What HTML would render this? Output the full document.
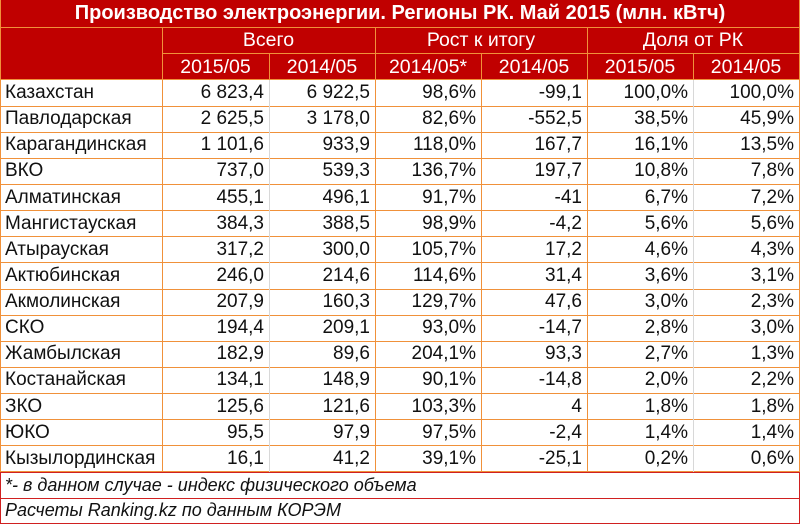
<!DOCTYPE html>
<html><head><meta charset="utf-8"><style>
body{margin:0;width:800px;height:525px;background:#fff;overflow:hidden;font-family:"Liberation Sans",sans-serif;}
.c{position:absolute;box-sizing:border-box;font-size:19px;line-height:26px;white-space:nowrap;}
.h{color:#fff;text-align:center;font-size:19.5px;}
.r{text-align:right;padding-right:5px;color:#111;}
.l{padding-left:5px;color:#111;}
.vl{position:absolute;width:1px;}
.hl{position:absolute;height:1px;}
</style></head><body>
<div style="position:absolute;left:0;top:0;width:800px;height:80px;background:#c00000"></div>
<div class="c h" style="left:0;top:0;width:800px;font-weight:bold;line-height:27px;font-size:20px">Производство электроэнергии. Регионы РК. Май 2015 (млн. кВтч)</div>
<div class="c h" style="left:162px;top:27px;width:213px">Всего</div>
<div class="c h" style="left:375px;top:27px;width:212px">Рост к итогу</div>
<div class="c h" style="left:587px;top:27px;width:212px">Доля от РК</div>
<div id="hdr"></div>
<div id="rows"></div>
<div class="c l" style="left:0;top:472px;font-style:italic;line-height:26px;font-size:18px">*- в данном случае - индекс физического объема</div>
<div class="c l" style="left:0;top:498px;font-style:italic;line-height:25px;font-size:18px">Расчеты Ranking.kz по данным КОРЭМ</div>
<div style="position:absolute;left:0;top:472px;width:800px;height:52px;box-sizing:border-box;border:1px solid #d02020"></div>
<div class="hl" style="left:0;top:498px;width:800px;background:#d02020"></div>
<script>
var xs=[0,162,269,375,481,587,693,799];
var hd=["2015/05","2014/05","2014/05*","2014/05","2015/05","2014/05"];
var h='';
for(var i=0;i<6;i++)h+='<div class="c h" style="left:'+xs[i+1]+'px;top:54px;width:'+(xs[i+2]-xs[i+1])+'px">'+hd[i]+'</div>';
document.getElementById('hdr').innerHTML=h;
var d=[["Казахстан","6 823,4","6 922,5","98,6%","-99,1","100,0%","100,0%"],
["Павлодарская","2 625,5","3 178,0","82,6%","-552,5","38,5%","45,9%"],
["Карагандинская","1 101,6","933,9","118,0%","167,7","16,1%","13,5%"],
["ВКО","737,0","539,3","136,7%","197,7","10,8%","7,8%"],
["Алматинская","455,1","496,1","91,7%","-41","6,7%","7,2%"],
["Мангистауская","384,3","388,5","98,9%","-4,2","5,6%","5,6%"],
["Атырауская","317,2","300,0","105,7%","17,2","4,6%","4,3%"],
["Актюбинская","246,0","214,6","114,6%","31,4","3,6%","3,1%"],
["Акмолинская","207,9","160,3","129,7%","47,6","3,0%","2,3%"],
["СКО","194,4","209,1","93,0%","-14,7","2,8%","3,0%"],
["Жамбылская","182,9","89,6","204,1%","93,3","2,7%","1,3%"],
["Костанайская","134,1","148,9","90,1%","-14,8","2,0%","2,2%"],
["ЗКО","125,6","121,6","103,3%","4","1,8%","1,8%"],
["ЮКО","95,5","97,9","97,5%","-2,4","1,4%","1,4%"],
["Кызылординская","16,1","41,2","39,1%","-25,1","0,2%","0,6%"]];
var s='';
for(var r=0;r<15;r++){var y=80+r*26.13;
 for(var c=0;c<7;c++){s+='<div class="c '+(c?'r':'l')+'" style="left:'+xs[c]+'px;top:'+y+'px;width:'+(xs[c+1]-xs[c])+'px">'+d[r][c]+'</div>';}
 s+='<div class="hl" style="left:0;top:'+(y+25.6)+'px;width:800px;background:#f0913a"></div>';}
for(var c=1;c<7;c++){var col=(c==2||c==6)?'#d8d8d8':'#f0913a';
 s+='<div class="vl" style="left:'+xs[c]+'px;top:80px;height:392px;background:'+col+'"></div>';}
s+='<div class="vl" style="left:0;top:0;height:472px;background:#f0913a"></div><div class="vl" style="left:799px;top:0;height:472px;background:#f0913a"></div>';
s+='<div class="hl" style="left:0;top:27px;width:800px;background:#f0913a"></div>';
s+='<div class="hl" style="left:162px;top:53px;width:638px;background:#f0913a"></div>';
s+='<div class="hl" style="left:0;top:79px;width:800px;background:#f0913a"></div>';
[162,375,587].forEach(function(x){s+='<div class="vl" style="left:'+x+'px;top:27px;height:53px;background:#f0913a"></div>';});
[269,481,693].forEach(function(x){s+='<div class="vl" style="left:'+x+'px;top:53px;height:27px;background:#f0913a"></div>';});
document.getElementById('rows').innerHTML=s;
</script>
</body></html>
